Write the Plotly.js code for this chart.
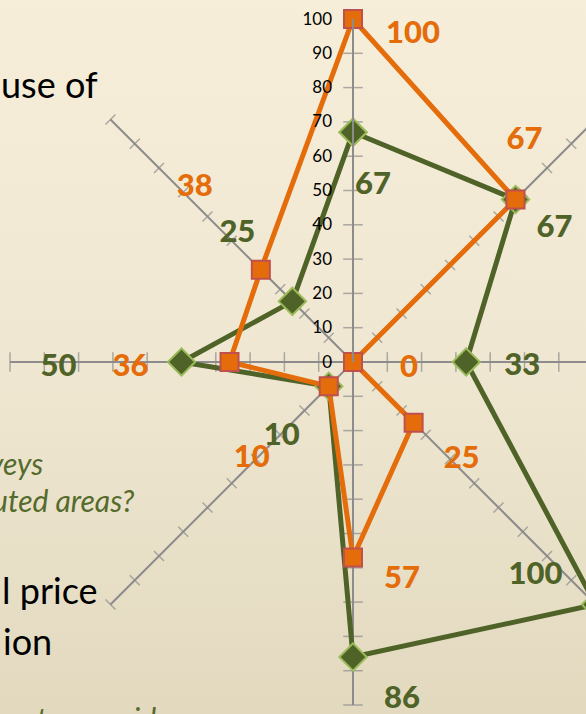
<!DOCTYPE html>
<html>
<head>
<meta charset="utf-8">
<script src="https://cdn.plot.ly/plotly-3.0.1.min.js"></script>
<style>
  html, body { margin: 0; padding: 0; width: 586px; height: 714px; overflow: hidden;
    background: linear-gradient(to bottom, #F6EED8 0%, #EFE7D1 50%, #E2D9BF 100%); }
  #chart { position: absolute; left: 0; top: 0; width: 700px; height: 760px; }
</style>
</head>
<body>
<div id="chart"></div>
<script>
// ---- data ----
const categories = ['Axis 1', 'Axis 2', 'Axis 3', 'Axis 4', 'Axis 5', 'Axis 6', 'Axis 7', 'Axis 8'];
const orangeValues = [100, 67, 0, 25, 57, 10, 36, 38];
const greenValues = [67, 67, 33, 100, 86, 10, 50, 25];
const radialTickValues = [0, 10, 20, 30, 40, 50, 60, 70, 80, 90, 100];
const radialTickText = ['0', '10', '20', '30', '40', '50', '60', '70', '80', '90', '100'];

// ---- styling ----
const ORANGE = '#E46C0A';
const GREEN = '#4F6228';
const GRID = '#8C8C8C';
const W = 700, H = 760, CX = 353, CY = 362, R = 343;
const spokeTickSymbols = ['line-ew', 'line-nw', 'line-ns', 'line-ne', 'line-ew', 'line-nw', 'line-ns', 'line-ne'];
const spokeTickSizes = [14, 10, 14, 10, 14, 10, 14, 10];
// label offsets in pixels (label centre minus data point)
const orangeLabelOffsets = [[60, 16], [9, -58], [56, 7], [48, 38], [49, 23], [-77, 73], [-99, 6], [-66, -82]];
const greenLabelOffsets = [[20, 54], [39, 30], [56, 5], [-60, -28], [49, 43], [-47, 51], [-123, 6], [-55, -67]];
const LABEL_FONT = 'Lato, "Open Sans", sans-serif';

// spoke cross-ticks
const tickR = [], tickTheta = [], tickSym = [], tickSize = [];
categories.forEach((c, i) => {
  radialTickValues.forEach(t => {
    if (t === 0) return;
    tickR.push(t); tickTheta.push(c); tickSym.push(spokeTickSymbols[i]); tickSize.push(spokeTickSizes[i]);
  });
});

const close = a => a.concat([a[0]]);

const traces = [
  {
    type: 'scatterpolar', mode: 'markers', r: tickR, theta: tickTheta,
    marker: { symbol: tickSym, size: tickSize, color: GRID, line: { color: GRID, width: 1.5 } },
    hoverinfo: 'skip', showlegend: false, cliponaxis: false
  },
  {
    type: 'scatterpolar', mode: 'lines+markers', r: close(greenValues), theta: close(categories),
    line: { color: GREEN, width: 5 },
    marker: { symbol: 'diamond', size: 21, color: GREEN, line: { color: '#9BBB59', width: 2 } },
    showlegend: false, cliponaxis: false
  },
  {
    type: 'scatterpolar', mode: 'lines+markers', r: close(orangeValues), theta: close(categories),
    line: { color: ORANGE, width: 5 },
    marker: { symbol: 'square', size: 18, color: ORANGE, line: { color: '#C0504D', width: 2 } },
    showlegend: false, cliponaxis: false
  },
  {
    type: 'scatterpolar', mode: 'text', r: greenValues, theta: categories,
    text: greenValues.map(String), textposition: 'middle center',
    textfont: { family: LABEL_FONT, size: 31, color: GREEN, weight: 900 },
    showlegend: false, cliponaxis: false, hoverinfo: 'skip'
  },
  {
    type: 'scatterpolar', mode: 'text', r: orangeValues, theta: categories,
    text: orangeValues.map(String), textposition: 'middle center',
    textfont: { family: LABEL_FONT, size: 31, color: ORANGE, weight: 900 },
    showlegend: false, cliponaxis: false, hoverinfo: 'skip'
  }
];

const px = x => x / W;
const py = y => 1 - y / H;
const blackFont = { family: 'Lato, "Open Sans", sans-serif', size: 36, color: '#000000' };
const greenItal = { family: 'Lato, "Open Sans", sans-serif', size: 30, color: '#546B2C', style: 'italic' };
const annotations = [
  { text: 'use of', x: px(100), y: py(84), font: blackFont },
  { text: 'l price', x: px(100), y: py(590), font: blackFont },
  { text: 'ion', x: px(54), y: py(641), font: blackFont },
  { text: 'veys', x: px(45), y: py(463), font: greenItal },
  { text: 'uted areas?', x: px(137), y: py(500), font: greenItal },
  { text: 'untry provide', x: px(172), y: py(718), font: greenItal }
].map(a => Object.assign({ xref: 'paper', yref: 'paper', xanchor: 'right', yanchor: 'middle', showarrow: false }, a));

const layout = {
  width: W, height: H,
  margin: { l: 0, r: 0, t: 0, b: 0, pad: 0 },
  paper_bgcolor: 'rgba(0,0,0,0)',
  plot_bgcolor: 'rgba(0,0,0,0)',
  showlegend: false,
  annotations: annotations,
  polar: {
    domain: { x: [(CX - R) / W, (CX + R) / W], y: [1 - (CY + R) / H, 1 - (CY - R) / H] },
    bgcolor: 'rgba(0,0,0,0)',
    angularaxis: {
      type: 'category', categoryarray: categories, direction: 'clockwise', rotation: 90,
      showticklabels: false, ticks: '', showline: false,
      showgrid: true, gridcolor: GRID, gridwidth: 2
    },
    radialaxis: {
      range: [0, 100], angle: 90, side: 'counterclockwise', tickangle: 90,
      tickmode: 'array', tickvals: radialTickValues, ticktext: radialTickText,
      showgrid: false, showline: true, linecolor: GRID, linewidth: 2,
      ticks: 'outside', ticklen: 14, tickcolor: 'rgba(0,0,0,0)',
      tickfont: { family: 'Lato, "Open Sans", sans-serif', size: 17, color: '#000000' }
    }
  }
};

const gd = document.getElementById('chart');
Plotly.newPlot(gd, traces, layout, { displayModeBar: false, staticPlot: true }).then(() => {
  const traceEls = gd.querySelectorAll('g.trace.scatter');
  const shift = (el, offsets) => {
    if (!el) return;
    el.querySelectorAll('g.textpoint text').forEach((t, i) => {
      const o = offsets[i];
      if (o) t.setAttribute('transform', 'translate(' + o[0] + ',' + o[1] + ')');
      t.style.fontWeight = '900';
    });
  };
  shift(traceEls[3], greenLabelOffsets);
  shift(traceEls[4], orangeLabelOffsets);
});
</script>
</body>
</html>
